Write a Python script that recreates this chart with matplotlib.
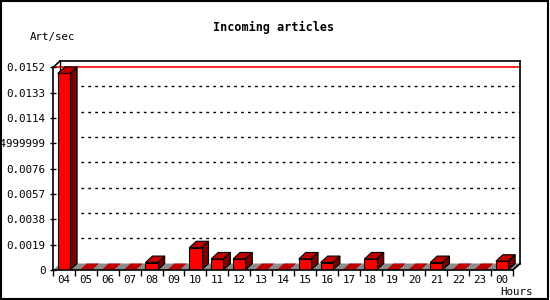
import numpy as np
import matplotlib.pyplot as plt
from matplotlib.patches import Polygon, Rectangle

# === Data ===
hours = ['04', '05', '06', '07', '08', '09', '10', '11', '12', '13', '14',
         '15', '16', '17', '18', '19', '20', '21', '22', '23', '00']
rate = [0.01475, 0, 0, 0, 0.00056, 0, 0.00167, 0.00083, 0.00083, 0, 0,
        0.00083, 0.00056, 0, 0.00083, 0, 0, 0.00056, 0, 0, 0.00066]
yticks = [0, 0.0019, 0.0038, 0.0057, 0.0076, 0.0095, 0.0114, 0.0133, 0.0152]
ytick_labels = ['0', '0.0019', '0.0038', '0.0057', '0.0076', '0.0094999999',
                '0.0114', '0.0133', '0.0152']
ymax = 0.0152

front = '#ff0000'
top = '#c00000'
side = '#7a0000'
floor = '#8c8c8c'
mono = 'DejaVu Sans Mono'

fig = plt.figure(figsize=(5.5, 3), dpi=100)
fig.patches.append(Rectangle((0.001, 0.002), 0.996, 0.995, transform=fig.transFigure,
                             fill=False, edgecolor='black', linewidth=1.5))

# axes box in pixels: front x 53..513, back right 520; y 270 (0) .. 61 (back top)
ax = fig.add_axes([53 / 550, 30 / 300, 467 / 550, 209 / 300])
n = len(hours)
ux = 460 / n                 # px per category
uy = 203 / ymax              # px per unit
dx = 7 / ux                  # depth in data units
dy = 6.5 / uy
ax.set_xlim(-0.5, -0.5 + 467 / ux)
ax.set_ylim(0, ymax + dy)
for s in ax.spines.values():
    s.set_visible(False)

x0, x1 = -0.5, n - 0.5
xb0, xb1 = x0 + dx, x1 + dx
ytop = ymax + dy

# floor
ax.add_patch(Polygon([(x0, 0), (x1, 0), (xb1, dy), (xb0, dy)], closed=True,
                     facecolor=floor, edgecolor='none', zorder=1))

# back wall grid
for t in yticks[1:-1]:
    ax.plot([xb0, xb1], [t + dy, t + dy], color='black', linestyle=(0, (2, 3)),
            linewidth=1, zorder=1)
ax.plot([x0, xb1], [ymax, ymax], color='red', linewidth=1.2, zorder=1)

# frame
lk = dict(color='black', linewidth=1.2, zorder=5, clip_on=False)
ax.plot([x0, x0], [0, ymax], **lk)
ax.plot([x0, xb0], [ymax, ytop], **lk)
ax.plot([xb0, xb1], [ytop, ytop], **lk)
ax.plot([xb1, xb1], [ytop, dy], **lk)
ax.plot([xb1, x1], [dy, 0], **lk)
ax.plot([x0, x1], [0, 0], **lk)
ax.plot([xb0, xb0], [dy, ytop], color='black', linewidth=1, zorder=1)

# bars
w = 0.56
for i, v in enumerate(rate):
    l, r = i - w / 2, i + w / 2
    if v > 0:
        ek = dict(edgecolor='black', linewidth=0.8, zorder=3, joinstyle='miter')
        ax.add_patch(Polygon([(r, 0), (r + dx, dy), (r + dx, v + dy), (r, v)],
                             closed=True, facecolor=side, **ek))
        ax.add_patch(Polygon([(l, v), (r, v), (r + dx, v + dy), (l + dx, v + dy)],
                             closed=True, facecolor=top, **ek))
        ax.add_patch(Rectangle((l, 0), w, v, facecolor=front, **ek))
    else:
        ax.add_patch(Polygon([(l, 0), (r, 0), (r + dx, dy), (l + dx, dy)],
                             closed=True, facecolor=top, edgecolor='none', zorder=2))

# ticks
ax.set_yticks(yticks)
ax.set_yticklabels(ytick_labels, fontfamily=mono, fontsize=7.8)
ax.tick_params(axis='y', direction='inout', length=5, width=1, pad=3)
ax.set_xticks(np.arange(n + 1) - 0.5)
ax.set_xticklabels([])
ax.set_xticks(np.arange(n), minor=True)
ax.set_xticklabels(hours, minor=True, fontfamily=mono, fontsize=7.8)
ax.tick_params(axis='x', which='major', direction='out', length=4, width=1)
ax.tick_params(axis='x', which='minor', length=0, pad=3.5)

fig.text(274 / 550, 1 - 27 / 300, 'Incoming articles', ha='center', va='center',
         fontfamily=mono, fontsize=8.5, fontweight='bold')
fig.text(30 / 550, 1 - 37 / 300, 'Art/sec', ha='left', va='center',
         fontfamily=mono, fontsize=7.8)
fig.text(533 / 550, 1 - 292 / 300, 'Hours', ha='right', va='center',
         fontfamily=mono, fontsize=7.8)

plt.savefig('out.png', dpi=100)
